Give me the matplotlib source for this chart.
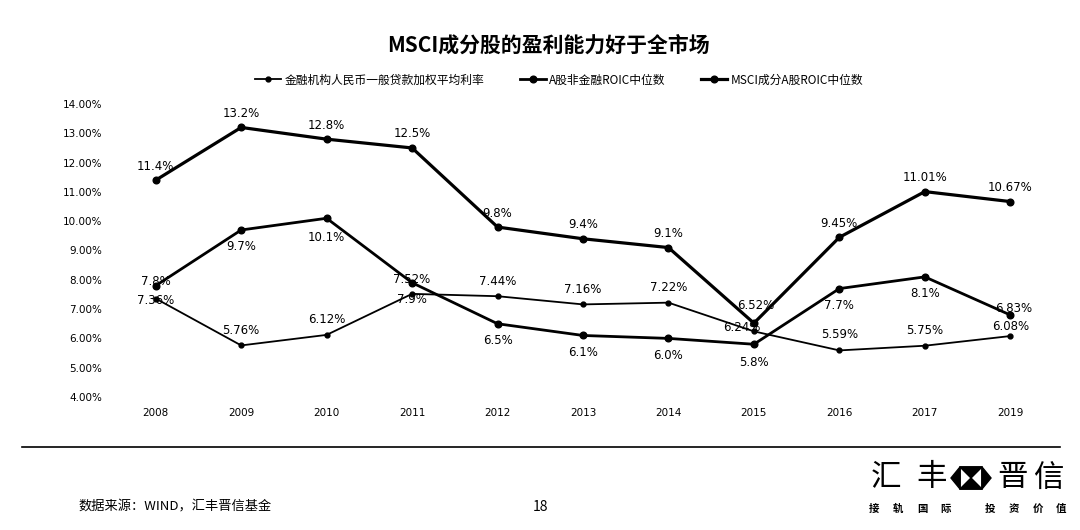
import matplotlib
matplotlib.use("Agg")
import matplotlib.pyplot as plt
from matplotlib.patches import Polygon, Rectangle

plt.rcParams['font.family'] = ['Noto Sans CJK SC', 'DejaVu Sans']

# --- data ---
years = ['2008', '2009', '2010', '2011', '2012', '2013', '2014', '2015', '2016', '2017', '2019']

loan_rate = [7.36, 5.76, 6.12, 7.52, 7.44, 7.16, 7.22, 6.24, 5.59, 5.75, 6.08]
loan_labels = ['7.36%', '5.76%', '6.12%', '7.52%', '7.44%', '7.16%', '7.22%', '6.24%', '5.59%', '5.75%', '6.08%']

a_roic = [7.8, 9.7, 10.1, 7.9, 6.5, 6.1, 6.0, 5.8, 7.7, 8.1, 6.8]
a_labels = ['7.8%', '9.7%', '10.1%', '7.9%', '6.5%', '6.1%', '6.0%', '5.8%', '7.7%', '8.1%', '6.83%']

msci_roic = [11.4, 13.2, 12.8, 12.5, 9.8, 9.4, 9.1, 6.52, 9.45, 11.01, 10.67]
msci_labels = ['11.4%', '13.2%', '12.8%', '12.5%', '9.8%', '9.4%', '9.1%', '6.52%', '9.45%', '11.01%', '10.67%']

series_names = ['金融机构人民币一般贷款加权平均利率', 'A股非金融ROIC中位数', 'MSCI成分A股ROIC中位数']
y_ticks = [4, 5, 6, 7, 8, 9, 10, 11, 12, 13, 14]

title = 'MSCI成分股的盈利能力好于全市场'
source = '数据来源：WIND，汇丰晋信基金'
page_no = '18'

# --- figure ---
fig = plt.figure(figsize=(10.8, 5.3), dpi=100)
fig.patch.set_facecolor('white')
ax = fig.add_axes([113 / 1080, 1 - 397 / 530, 940 / 1080, 293 / 530])

x = list(range(len(years)))
l1, = ax.plot(x, loan_rate, color='black', lw=1.3, marker='o', ms=3.5, label=series_names[0])
l2, = ax.plot(x, a_roic, color='black', lw=2.0, marker='o', ms=4.8, label=series_names[1])
l3, = ax.plot(x, msci_roic, color='black', lw=2.3, marker='o', ms=4.8, label=series_names[2])

ax.set_xlim(-0.5, len(years) - 0.5)
ax.set_ylim(4, 14)
ax.set_xticks(x)
ax.set_xticklabels(years, fontsize=7.5, family='DejaVu Sans')
ax.set_yticks(y_ticks)
ax.set_yticklabels(['%.2f%%' % v for v in y_ticks], fontsize=7.5, family='DejaVu Sans')
ax.tick_params(length=0, pad=8)
for s in ax.spines.values():
    s.set_visible(False)

# label offsets in pixels (dx, dy)
loan_off = [(0, -2), (0, 15), (0, 15), (0, 14), (0, 15), (0, 15), (0, 15), (-12, 4), (0, 16), (0, 15), (0, 10)]
a_off = [(0, 4), (0, -17), (0, -19), (0, -17), (0, -17), (0, -17), (0, -17), (0, -18), (0, -17), (0, -17), (3, 6)]
msci_off = [(0, 14), (0, 14), (0, 14), (0, 14), (0, 14), (0, 14), (0, 14), (2, 18), (0, 14), (0, 14), (0, 14)]

for vals, labs, offs in [(msci_roic, msci_labels, msci_off), (a_roic, a_labels, a_off), (loan_rate, loan_labels, loan_off)]:
    for i, (v, t) in enumerate(zip(vals, labs)):
        ax.annotate(t, (i, v), xytext=offs[i], textcoords='offset pixels',
                    ha='center', va='center', fontsize=8.5, family='DejaVu Sans')

fig.legend(handles=[l1, l2, l3], loc='center', bbox_to_anchor=(559 / 1080, 1 - 80 / 530),
           ncol=3, frameon=False, fontsize=8.5, handlelength=2.2, columnspacing=3.0, handletextpad=0.3)

fig.text(548 / 1080, 1 - 45 / 530, title, ha='center', va='center', fontsize=15, fontweight='bold')

# separator line
fig.add_artist(plt.Line2D([22 / 1080, 1060 / 1080], [1 - 447 / 530] * 2, color='black', lw=1.2))

fig.text(78 / 1080, 1 - 507 / 530, source, ha='left', va='center', fontsize=9.5)
fig.text(540 / 1080, 1 - 507 / 530, page_no, ha='center', va='center', fontsize=10)

# logo
for ch, px in [('汇', 886), ('丰', 932), ('晋', 1012), ('信', 1048)]:
    fig.text(px / 1080, 1 - 478 / 530, ch, ha='center', va='center', fontsize=22)
# hexagon symbol
cx, cy, w, h = 971, 478, 40, 22


def fp(px, py):
    return (px / 1080, 1 - py / 530)


l, r, t, b = cx - w / 2, cx + w / 2, cy - h / 2, cy + h / 2
sq_l, sq_r = cx - h / 2, cx + h / 2
for pts in [[fp(l, cy), fp(sq_l, t), fp(sq_l, b)],
            [fp(r, cy), fp(sq_r, t), fp(sq_r, b)],
            [fp(sq_l, t), fp(sq_r, t), fp(cx, cy)],
            [fp(sq_l, b), fp(sq_r, b), fp(cx, cy)]]:
    fig.add_artist(Polygon(pts, closed=True, color='black', transform=fig.transFigure))
fig.add_artist(Rectangle(fp(sq_l, b), h / 1080, h / 530, fill=False, ec='black', lw=1.2, transform=fig.transFigure))

for ch, px in zip('接轨国际投资价值', [874, 898, 922, 946, 990, 1014, 1038, 1061]):
    fig.text(px / 1080, 1 - 509 / 530, ch, ha='center', va='center', fontsize=7.5, fontweight='bold')

fig.savefig('out.png', dpi=100, facecolor='white')
